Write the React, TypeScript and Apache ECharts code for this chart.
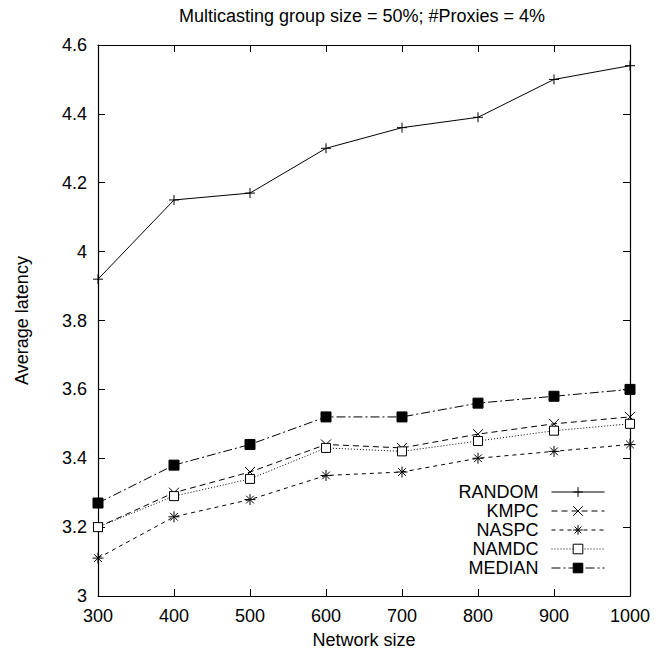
import React, { useEffect, useRef } from "react";
import * as echarts from "echarts";

const networkSizes = [300, 400, 500, 600, 700, 800, 900, 1000];
const randomValues = [3.92, 4.15, 4.17, 4.3, 4.36, 4.39, 4.5, 4.54];
const kmpcValues = [3.2, 3.3, 3.36, 3.44, 3.43, 3.47, 3.5, 3.52];
const naspcValues = [3.11, 3.23, 3.28, 3.35, 3.36, 3.4, 3.42, 3.44];
const namdcValues = [3.2, 3.29, 3.34, 3.43, 3.42, 3.45, 3.48, 3.5];
const medianValues = [3.27, 3.38, 3.44, 3.52, 3.52, 3.56, 3.58, 3.6];
const seriesNames = ["RANDOM", "KMPC", "NASPC", "NAMDC", "MEDIAN"];

const FONT = "'Liberation Sans', Arial, Helvetica, sans-serif";

const PLUS = "path://M0,5L10,5M5,0L5,10";
const CROSS = "path://M1,1L9,9M9,1L1,9";
const STAR = "path://M0,5L10,5M5,0L5,10M1.5,1.5L8.5,8.5M8.5,1.5L1.5,8.5";

export default function App() {
  const ref = useRef<HTMLDivElement>(null);
  useEffect(() => {
    if (!ref.current) return;
    const chart = echarts.init(ref.current, null, { renderer: "svg" });
    const pair = (vals: number[]) => networkSizes.map((x, i) => [x, vals[i]]);
    const base = (name: string, vals: number[], dash: any, symbol: string, size: number, fill: string) => ({
      name,
      type: "line",
      data: pair(vals),
      symbol,
      symbolSize: size,
      showSymbol: true,
      clip: false,
      lineStyle: { color: "#000", width: 1, type: dash },
      itemStyle: { color: fill, borderColor: "#000", borderWidth: 1 },
      emphasis: { disabled: true },
    });
    const legendTops = [483, 502, 521, 540, 559];
    const axisCommon = {
      type: "value",
      axisLine: { show: true, lineStyle: { color: "#000", width: 1.2 } },
      axisTick: { show: true, inside: true, length: 7, lineStyle: { color: "#000", width: 1 } },
      splitLine: { show: false },
    };
    chart.setOption({
      animation: false,
      textStyle: { fontFamily: FONT },
      title: {
        text: "Multicasting group size = 50%; #Proxies = 4%",
        left: 362,
        top: 7,
        textAlign: "center",
        padding: 0,
        textStyle: { fontSize: 18, fontWeight: "normal", color: "#000", fontFamily: FONT },
      },
      legend: seriesNames.map((n, i) => ({
        data: [n],
        orient: "vertical",
        align: "right",
        right: 55,
        top: legendTops[i],
        padding: 0,
        itemWidth: 53,
        itemHeight: 12,
        selectedMode: false,
        lineStyle: { width: 1 },
        itemStyle: { borderWidth: 1 },
        textStyle: { fontSize: 18, color: "#000", fontFamily: FONT, padding: [0, 8, 0, 0] },
      })),
      grid: { left: 98, right: 30, top: 45, bottom: 54, containLabel: false, outerBoundsMode: "none" },
      xAxis: [
        {
          ...axisCommon,
          position: "bottom",
          min: 300,
          max: 1000,
          interval: 100,
          name: "Network size",
          nameLocation: "middle",
          nameGap: 35,
          nameTextStyle: { fontSize: 18, lineHeight: 18, color: "#000", fontFamily: FONT },
          axisLabel: { fontSize: 18, color: "#000", margin: 11, fontFamily: FONT, formatter: (v: number) => String(v) },
        },
        {
          ...axisCommon,
          position: "top",
          min: 300,
          max: 1000,
          interval: 100,
          axisLabel: { show: false },
        },
      ],
      yAxis: [
        {
          ...axisCommon,
          position: "left",
          min: 3,
          max: 4.6,
          interval: 0.2,
          name: "Average latency",
          nameLocation: "middle",
          nameGap: 67,
          nameTextStyle: { fontSize: 18, color: "#000", fontFamily: FONT },
          axisLabel: { fontSize: 18, color: "#000", margin: 11, fontFamily: FONT },
        },
        {
          ...axisCommon,
          position: "right",
          min: 3,
          max: 4.6,
          interval: 0.2,
          axisLabel: { show: false },
        },
      ],
      series: [
        base("RANDOM", randomValues, "solid", PLUS, 10, "#000"),
        base("KMPC", kmpcValues, [6, 4], CROSS, 10, "#000"),
        base("NASPC", naspcValues, [4, 4], STAR, 11, "#000"),
        base("NAMDC", namdcValues, [1, 2], "rect", 9, "#fff"),
        base("MEDIAN", medianValues, [9, 3, 2, 3], "rect", 10, "#000"),
      ],
    });
    return () => chart.dispose();
  }, []);
  return <div ref={ref} style={{ width: 660, height: 650, position: "absolute", left: 0, top: 0 }} />;
}
